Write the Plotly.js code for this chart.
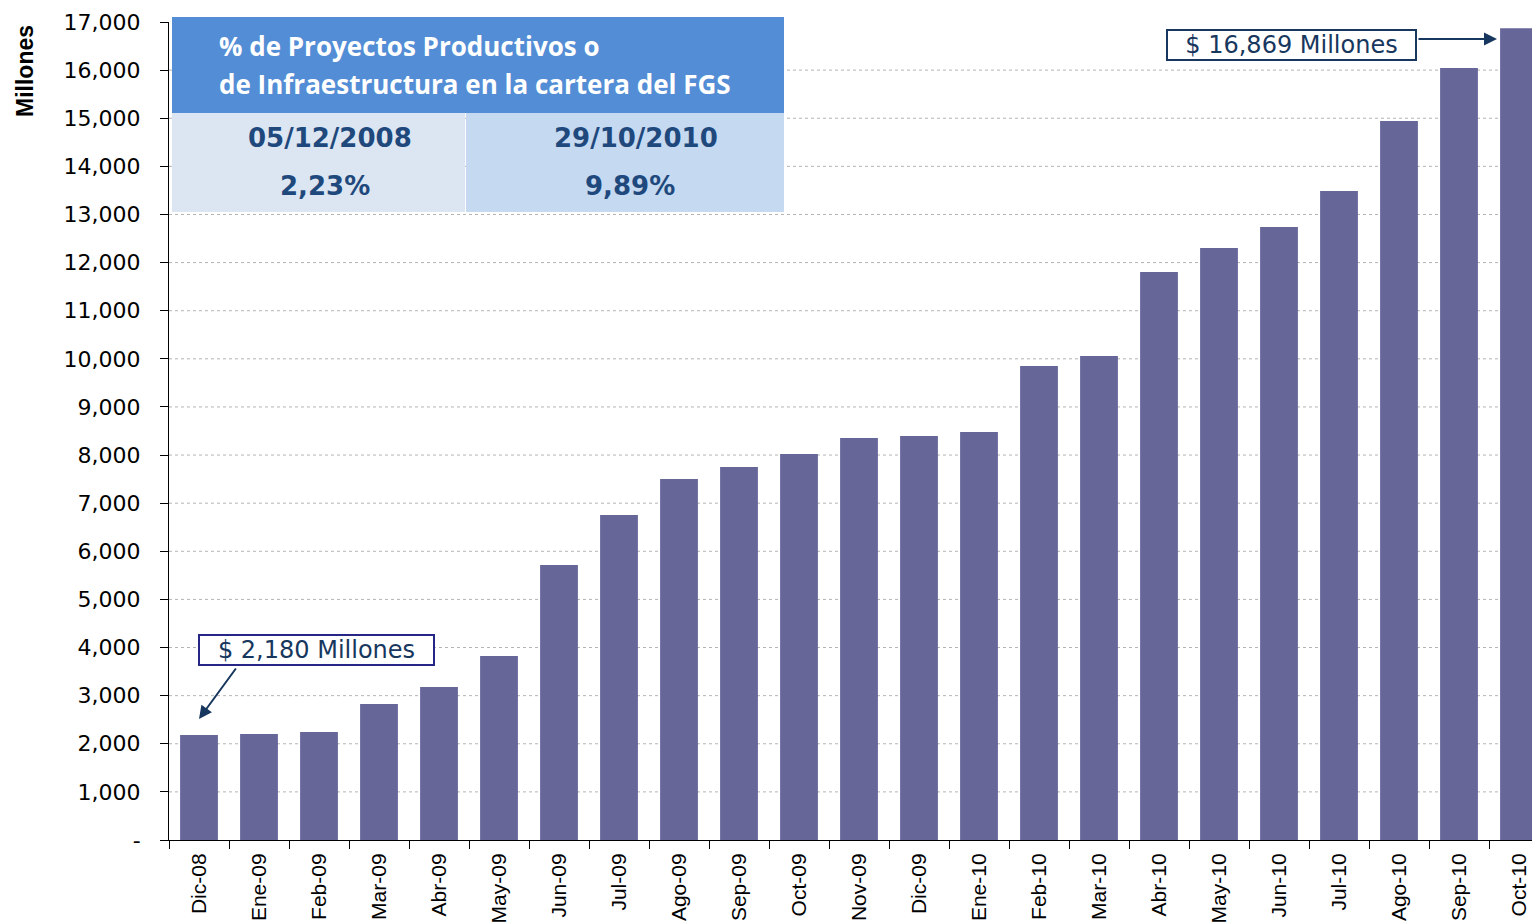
<!DOCTYPE html>
<html>
<head>
<meta charset="utf-8">
<script src="https://cdn.plot.ly/plotly-3.0.1.min.js"></script>
<style>html,body{margin:0;padding:0;background:#fff;}#chart{width:1532px;height:922px;}</style>
</head>
<body>
<div id="chart"></div>
<script>
// ---- data ----
const categories = ["Dic-08","Ene-09","Feb-09","Mar-09","Abr-09","May-09","Jun-09","Jul-09","Ago-09","Sep-09","Oct-09","Nov-09","Dic-09","Ene-10","Feb-10","Mar-10","Abr-10","May-10","Jun-10","Jul-10","Ago-10","Sep-10","Oct-10"];
const values = [2180, 2203, 2244, 2826, 3180, 3824, 5715, 6754, 7502, 7752, 8022, 8354, 8396, 8479, 9851, 10058, 11804, 12303, 12740, 13488, 14943, 16043, 16869];
const yTickVals = [0,1000,2000,3000,4000,5000,6000,7000,8000,9000,10000,11000,12000,13000,14000,15000,16000,17000];
const yTickText = ["-","1,000","2,000","3,000","4,000","5,000","6,000","7,000","8,000","9,000","10,000","11,000","12,000","13,000","14,000","15,000","16,000","17,000"];
const yGridVals = [1000,2000,3000,4000,5000,6000,7000,8000,9000,10000,11000,12000,13000,14000,15000,16000];
const tableTitle = ["% de Proyectos Productivos o", "de Infraestructura en la cartera del FGS"];
const tableDates = ["05/12/2008", "29/10/2010"];
const tablePcts = ["2,23%", "9,89%"];
const noteFirst = "$ 2,180 Millones";
const noteLast = "$ 16,869 Millones";

// ---- layout helpers (pixel -> paper) ----
const W = 1532, H = 922, L = 169, R = 0, T = 22, B = 82;
const PW = W - L - R, PH = H - T - B;
const px = x => (x - L) / PW;
const py = y => (H - B - y) / PH;

const navy = '#17375E';
const darkBlue = '#1F497D';

const shapes = [];
yGridVals.forEach(v => shapes.push({
  type: 'line', xref: 'paper', yref: 'y', x0: 0, x1: 1, y0: v, y1: v,
  line: {color: '#B4B4B4', width: 1, dash: 'dot'}, layer: 'below'
}));
// table cells
shapes.push({type:'rect', xref:'paper', yref:'paper', x0:px(172), x1:px(784), y0:py(17), y1:py(113), fillcolor:'#538DD5', line:{width:0}, layer:'above'});
shapes.push({type:'rect', xref:'paper', yref:'paper', x0:px(172), x1:px(465), y0:py(113), y1:py(212), fillcolor:'#DCE6F2', line:{width:0}, layer:'above'});
shapes.push({type:'rect', xref:'paper', yref:'paper', x0:px(466), x1:px(784), y0:py(113), y1:py(212), fillcolor:'#C5D9F1', line:{width:0}, layer:'above'});

function txt(x, y, text, font, extra) {
  return Object.assign({xref:'paper', yref:'paper', x:px(x), y:py(y), xanchor:'center', yanchor:'middle',
    text:text, showarrow:false, font:font}, extra || {});
}
const hdrFont = {family:'Open Sans, sans-serif', size:26, color:'#fff', weight:'bold'};
const cellFont = {family:'DejaVu Sans, sans-serif', size:26, color:darkBlue, weight:'bold'};
const noteFont = {family:'DejaVu Sans, sans-serif', size:24, color:navy};

const annotations = [
  txt(25, 71, 'Millones', {family:'Liberation Sans, Arial, sans-serif', size:23, color:'#000', weight:'bold'}, {textangle:-90}),
  txt(217, 46, tableTitle[0], hdrFont, {xanchor:'left'}),
  txt(217, 84, tableTitle[1], hdrFont, {xanchor:'left'}),
  txt(330, 138, tableDates[0], cellFont),
  txt(325, 186, tablePcts[0], cellFont),
  txt(636, 138, tableDates[1], cellFont),
  txt(630, 186, tablePcts[1], cellFont),
  // callout boxes
  txt(1291.5, 44.5, noteLast, noteFont, {width:245, height:26, borderpad:1, bordercolor:navy, borderwidth:2, bgcolor:'#fff'}),
  txt(316.5, 650, noteFirst, noteFont, {width:231, height:26, borderpad:1, bordercolor:'#262686', borderwidth:2, bgcolor:'#fff'}),
  // arrows
  {xref:'paper', yref:'paper', x:px(1497), y:py(39), ax:-80, ay:0, text:'', showarrow:true,
   arrowhead:2, arrowsize:1.3, arrowwidth:2, arrowcolor:navy},
  {xref:'paper', yref:'paper', x:px(199), y:py(719), ax:38, ay:-52, text:'', showarrow:true,
   arrowhead:2, arrowsize:1.3, arrowwidth:2, arrowcolor:navy}
];

const trace = {
  type: 'bar', x: categories, y: values,
  marker: {color: '#666699', line: {width: 0}},
  width: 0.63, hoverinfo: 'x+y'
};

const layout = {
  width: W, height: H, autosize: false,
  margin: {l: L, r: R, t: T, b: B, pad: 0},
  paper_bgcolor: '#fff', plot_bgcolor: '#fff',
  showlegend: false,
  xaxis: {
    type: 'category', range: [-0.5, -0.5 + PW / 60], tickson: 'boundaries',
    ticks: 'outside', ticklen: 8, tickwidth: 1, tickcolor: '#000',
    showline: true, linecolor: '#000', linewidth: 1, showgrid: false,
    ticklabelstandoff: 4,
    tickangle: -90, tickfont: {family: 'Liberation Sans, Arial, sans-serif', size: 21, color: '#000'},
    fixedrange: true
  },
  yaxis: {
    range: [0, 17000], tickvals: yTickVals, ticktext: yTickText,
    ticks: 'outside', ticklen: 8, tickwidth: 1, tickcolor: '#000',
    showline: true, linecolor: '#000', linewidth: 1, showgrid: false, zeroline: false,
    ticklabelstandoff: 15,
    tickfont: {family: 'DejaVu Sans, sans-serif', size: 22, color: '#000'},
    fixedrange: true
  },
  shapes: shapes,
  annotations: annotations
};

Plotly.newPlot('chart', [trace], layout, {displayModeBar: false, staticPlot: true});
</script>
</body>
</html>
